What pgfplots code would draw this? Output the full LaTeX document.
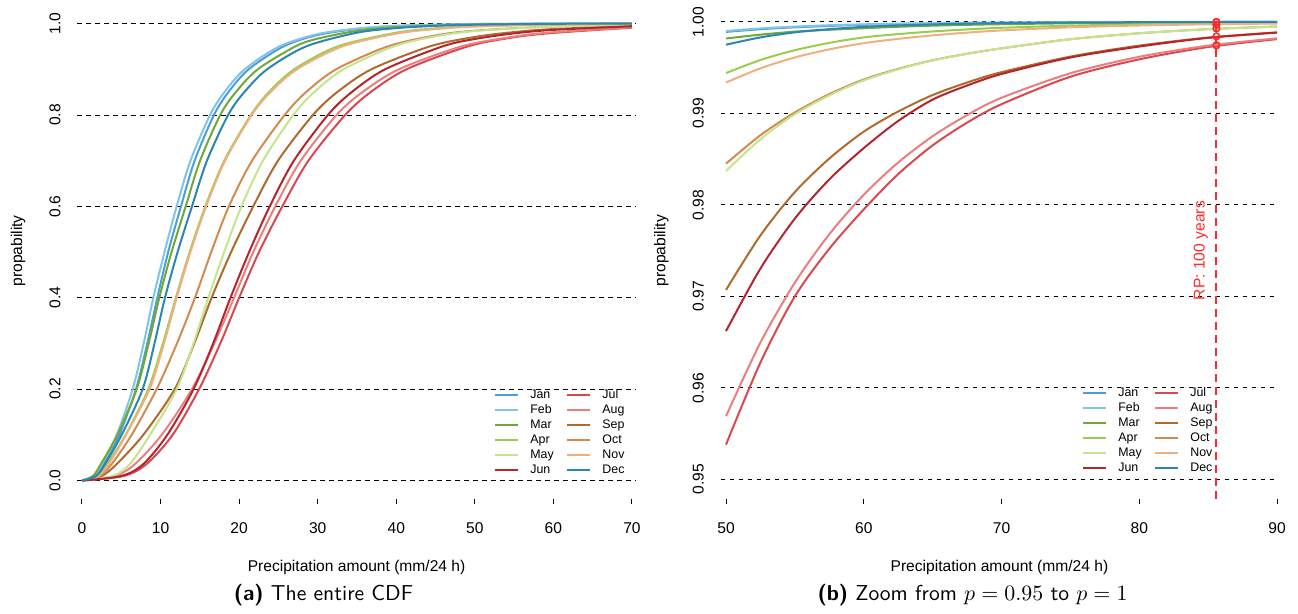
\documentclass[border=0pt]{standalone}
\usepackage{fontspec}
\setmainfont{Liberation Sans}
\usepackage{pgfplots}
\usepackage{pgfplotstable}
\pgfplotsset{compat=1.18}

\definecolor{cJan}{HTML}{4C9FD6}
\definecolor{cFeb}{HTML}{80C4E8}
\definecolor{cMar}{HTML}{72A834}
\definecolor{cApr}{HTML}{9ACD4F}
\definecolor{cMay}{HTML}{C3E58E}
\definecolor{cJun}{HTML}{B3262B}
\definecolor{cJul}{HTML}{D8494F}
\definecolor{cAug}{HTML}{EB7E7E}
\definecolor{cSep}{HTML}{AF6A2E}
\definecolor{cOct}{HTML}{D38B4F}
\definecolor{cNov}{HTML}{EFAF7F}
\definecolor{cDec}{HTML}{2C86B4}
\definecolor{rpred}{HTML}{FF2A2A}

% upper tail
\pgfplotstableread{
x    Jan     Feb      Mar     Apr     May     Jun     Jul     Aug     Sep     Oct     Nov     Dec
50   0.99890 0.99900  0.99818 0.99440 0.98370 0.96620 0.95380 0.95690 0.97070 0.98450 0.99337 0.99750
52.5 0.99919 0.99928  0.99860 0.99583 0.98717 0.97304 0.96277 0.96495 0.97666 0.98761 0.99492 0.99830
55   0.99940 0.99948  0.99893 0.99690 0.98990 0.97850 0.97000 0.97150 0.98140 0.99010 0.99611 0.99885
57.5 0.99955 0.99963  0.99913 0.99770 0.99196 0.98278 0.97520 0.97679 0.98506 0.99210 0.99699 0.99920
60   0.99967 0.99973  0.99930 0.99830 0.99360 0.98620 0.97950 0.98110 0.98800 0.99370 0.99767 0.99945
62.5 0.99976 0.99981  0.99946 0.99866 0.99480 0.98917 0.98336 0.98463 0.99020 0.99486 0.99814 0.99961
65   0.99982 0.99986  0.99958 0.99895 0.99578 0.99150 0.98650 0.98750 0.99200 0.99580 0.99852 0.99972
67.5 0.99987 0.99990  0.99967 0.99917 0.99650 0.99304 0.98898 0.98981 0.99337 0.99651 0.99882 0.99980
70   0.99990 0.99993  0.99974 0.99935 0.99710 0.99430 0.99100 0.99170 0.99450 0.99710 0.99906 0.99986
75   0.99995 0.99996  0.99984 0.99958 0.99810 0.99610 0.99400 0.99438 0.99620 0.99810 0.99940 0.99993
80   0.99997 0.99998  0.99990 0.99972 0.99875 0.99730 0.99590 0.99618 0.99740 0.99875 0.99960 0.99996
85   0.99998 0.99999  0.99994 0.99981 0.99920 0.99825 0.99725 0.99740 0.99828 0.99920 0.99973 0.99998
90   0.99999 0.999995 0.99996 0.99986 0.99949 0.99883 0.99811 0.99820 0.99884 0.99949 0.99981 0.99999
}\zoomtab

\pgfplotsset{
  rplot/.style={
    scale only axis,
    axis x line*=bottom, axis y line*=left,
    axis line style={draw=none},
    tick align=outside,
    major tick length=2.5pt,
    xtick style={black, line width=0.5pt},
    ytick style={draw=none},
    ymajorgrids,
    grid style={black, line width=0.45pt, dash pattern=on 2.3pt off 2.2pt},
    tick label style={font=\fontsize{7.8}{9}\selectfont},
    label style={font=\fontsize{7.8}{9}\selectfont},
    /pgf/number format/assume math mode=true,
    yticklabel style={rotate=90, anchor=south},
    yticklabel shift=2.35pt,
    xticklabel shift=6.1pt,
    xlabel style={at={(axis description cs:0.5,-0.1435)}, anchor=center},
    ylabel style={at={(axis description cs:-0.106,0.515)}, anchor=center},
    clip=false,
    legend columns=2,
    legend cell align=left,
    legend image code/.code={\draw[##1] (0pt,0pt) -- (11.5pt,0pt);},
    legend style={draw=none, fill=none, inner sep=0pt,
      font=\fontsize{6.2}{7}\selectfont, row sep=1.65pt,
      nodes={inner sep=0pt, text height=4.6pt, text depth=1.3pt},
      /tikz/every odd column/.append style={column sep=5.5pt},
      /tikz/every even column/.append style={column sep=6.3pt}},
    every axis plot/.append style={line width=1pt},
  },
}

\begin{document}
\begin{tikzpicture}[x=1pt,y=1pt]
\path (0,0) rectangle (649,305);

% (a) the entire CDF
\begin{axis}[rplot,
  at={(38.64pt,57pt)}, anchor=south west,
  width=279.3pt, height=240.47pt,
  xmin=-0.6, xmax=70.5, ymin=-0.0394, ymax=1.013,
  xtick={0,10,20,30,40,50,60,70},
  ytick={0,0.2,0.4,0.6,0.8,1},
  yticklabel style={/pgf/number format/fixed, /pgf/number format/fixed zerofill,
    /pgf/number format/precision=1},
  xlabel={Precipitation amount (mm/24 h)},
  ylabel={propability},
  legend style={at={(axis cs:52.44,0.2013)}, anchor=north west},
]
\addplot[cJan, smooth] coordinates {(0,0) (1.7,0.01) (2.8,0.036) (4.75,0.1) (6.87,0.2) (8.31,0.3) (9.59,0.4) (10.97,0.5) (12.6,0.6) (14.34,0.7) (16.8,0.8) (18.64,0.85) (21.22,0.9) (25.65,0.95) (30,0.975) (35,0.988) (40,0.9947) (50,0.9989) (60,0.99967) (70,0.9999)};
\addlegendentry{Jan}
\addplot[cJul, smooth] coordinates {(0,0) (5.3,0.01) (8.2,0.036) (11.54,0.1) (14.9,0.2) (17.6,0.3) (20.0,0.4) (22.53,0.5) (25.5,0.6) (28.82,0.7) (33.5,0.8) (36.74,0.85) (41.31,0.9) (49.11,0.95) (55,0.970) (60,0.9795) (70,0.991)};
\addlegendentry{Jul}
\addplot[cFeb, smooth] coordinates {(0,0) (1.5,0.01) (2.5,0.036) (4.41,0.1) (6.45,0.2) (7.85,0.3) (9.08,0.4) (10.5,0.5) (12.05,0.6) (13.81,0.7) (16.3,0.8) (18.13,0.85) (20.71,0.9) (25.12,0.95) (30,0.977) (35,0.989) (40,0.9952) (50,0.999) (60,0.99973) (70,0.99993)};
\addlegendentry{Feb}
\addplot[cAug, smooth] coordinates {(0,0) (4.2,0.01) (6.74,0.036) (10.14,0.1) (14.0,0.2) (16.84,0.3) (19.35,0.4) (21.8,0.5) (24.6,0.6) (27.84,0.7) (32.4,0.8) (35.7,0.85) (40.35,0.9) (48.3,0.95) (55,0.9715) (60,0.9811) (70,0.9917)};
\addlegendentry{Aug}
\addplot[cMar, smooth] coordinates {(0,0) (1.4,0.01) (2.4,0.036) (4.5,0.1) (6.96,0.2) (8.49,0.3) (9.84,0.4) (11.4,0.5) (13.2,0.6) (15.03,0.7) (17.6,0.8) (19.58,0.85) (22.38,0.9) (27.16,0.95) (30,0.967) (35,0.984) (40,0.9922) (50,0.9982) (60,0.9993) (70,0.99974)};
\addlegendentry{Mar}
\addplot[cSep, smooth] coordinates {(0,0) (2.5,0.01) (4.41,0.036) (7.8,0.1) (11.8,0.2) (14.29,0.3) (16.5,0.4) (18.98,0.5) (21.8,0.6) (24.95,0.7) (29.4,0.8) (32.49,0.85) (36.84,0.9) (44.27,0.95) (50,0.9707) (55,0.9814) (60,0.988) (70,0.9945)};
\addlegendentry{Sep}
\addplot[cApr, smooth] coordinates {(0,0) (2.0,0.01) (3.2,0.036) (5.55,0.1) (8.44,0.2) (10.3,0.3) (11.95,0.4) (13.7,0.5) (15.7,0.6) (18.11,0.7) (21.5,0.8) (23.79,0.85) (27.02,0.9) (32.55,0.95) (40,0.980) (45,0.9895) (50,0.9944) (60,0.9983) (70,0.99935)};
\addlegendentry{Apr}
\addplot[cOct, smooth] coordinates {(0,0) (2.2,0.01) (3.77,0.036) (6.32,0.1) (9.5,0.2) (12.09,0.3) (14.38,0.4) (16.45,0.5) (18.7,0.6) (21.65,0.7) (25.8,0.8) (28.52,0.85) (32.36,0.9) (38.92,0.95) (45,0.974) (50,0.9845) (60,0.9937) (70,0.9971)};
\addlegendentry{Oct}
\addplot[cMay, smooth] coordinates {(0,0) (3.9,0.01) (6.1,0.036) (8.65,0.1) (12.05,0.2) (14.19,0.3) (16.08,0.4) (18.1,0.5) (20.3,0.6) (23.04,0.7) (26.9,0.8) (29.55,0.85) (33.29,0.9) (39.68,0.95) (45,0.972) (50,0.9837) (60,0.9936) (70,0.9971)};
\addlegendentry{May}
\addplot[cNov, smooth] coordinates {(0,0) (2.1,0.01) (3.4,0.036) (5.6,0.1) (8.6,0.2) (10.43,0.3) (12.05,0.4) (13.8,0.5) (15.8,0.6) (18.21,0.7) (21.6,0.8) (24.0,0.85) (27.37,0.9) (33.14,0.95) (40,0.978) (45,0.988) (50,0.9934) (60,0.99767) (70,0.99906)};
\addlegendentry{Nov}
\addplot[cJun, smooth] coordinates {(0,0) (5.0,0.01) (7.8,0.036) (10.86,0.1) (14.2,0.2) (16.69,0.3) (18.9,0.4) (21.27,0.5) (23.9,0.6) (26.97,0.7) (31.3,0.8) (34.33,0.85) (38.59,0.9) (45.88,0.95) (50,0.9662) (55,0.9785) (60,0.9862) (70,0.9943)};
\addlegendentry{Jun}
\addplot[cDec, smooth] coordinates {(0,0) (1.8,0.01) (2.93,0.036) (5.05,0.1) (7.72,0.2) (9.23,0.3) (10.56,0.4) (12.17,0.5) (14.0,0.6) (15.91,0.7) (18.6,0.8) (20.66,0.85) (23.57,0.9) (28.53,0.95) (35,0.980) (40,0.990) (45,0.995) (50,0.9975) (60,0.99945) (70,0.99986)};
\addlegendentry{Dec}
\end{axis}

% (b) zoom on the upper tail
\begin{axis}[rplot,
  at={(360.25pt,57pt)}, anchor=south west,
  width=278.95pt, height=240.65pt,
  xmin=49.6, xmax=90.1, ymin=0.9479, ymax=1.0005,
  xtick={50,60,70,80,90},
  ytick={0.95,0.96,0.97,0.98,0.99,1},
  yticklabel style={/pgf/number format/fixed, /pgf/number format/fixed zerofill,
    /pgf/number format/precision=2},
  xlabel={Precipitation amount (mm/24 h)},
  ylabel={propability},
  legend style={at={(axis cs:75.84,0.96014)}, anchor=north west},
]
\addplot[cJan, smooth] table[x=x, y=Jan] {\zoomtab}; \addlegendentry{Jan}
\addplot[cJul, smooth] table[x=x, y=Jul] {\zoomtab}; \addlegendentry{Jul}
\addplot[cFeb, smooth] table[x=x, y=Feb] {\zoomtab}; \addlegendentry{Feb}
\addplot[cAug, smooth] table[x=x, y=Aug] {\zoomtab}; \addlegendentry{Aug}
\addplot[cMar, smooth] table[x=x, y=Mar] {\zoomtab}; \addlegendentry{Mar}
\addplot[cSep, smooth] table[x=x, y=Sep] {\zoomtab}; \addlegendentry{Sep}
\addplot[cApr, smooth] table[x=x, y=Apr] {\zoomtab}; \addlegendentry{Apr}
\addplot[cOct, smooth] table[x=x, y=Oct] {\zoomtab}; \addlegendentry{Oct}
\addplot[cMay, smooth] table[x=x, y=May] {\zoomtab}; \addlegendentry{May}
\addplot[cNov, smooth] table[x=x, y=Nov] {\zoomtab}; \addlegendentry{Nov}
\addplot[cJun, smooth] table[x=x, y=Jun] {\zoomtab}; \addlegendentry{Jun}
\addplot[cDec, smooth] table[x=x, y=Dec] {\zoomtab}; \addlegendentry{Dec}
% 100-year return period
\addplot[rpred, line width=1pt, dash pattern=on 4pt off 2.5pt, forget plot]
  coordinates {(85.6,0.9479) (85.6,1.0)};
\addplot[rpred, only marks, mark=o, mark size=1.65pt, mark options={line width=0.6pt}, forget plot]
  coordinates {(85.6,0.99998) (85.6,0.99999) (85.6,0.99994) (85.6,0.99998) (85.6,0.99970)
    (85.6,0.99968) (85.6,0.99928) (85.6,0.99926) (85.6,0.99842) (85.6,0.99840)
    (85.6,0.99748) (85.6,0.99740)};
\node[rotate=90, text=rpred, font=\fontsize{7.8}{9}\selectfont] at (axis cs:84.46,0.975) {RP: 100 years};
\end{axis}

\node[font=\sffamily\fontsize{10.8}{12}\selectfont] at (161.75,8.5) {\textbf{(a)}~The entire CDF};
\node[font=\sffamily\fontsize{10.8}{12}\selectfont] at (486.25,8.5) {\textbf{(b)}~Zoom from $p=0.95$ to $p=1$};
\end{tikzpicture}
\end{document}
